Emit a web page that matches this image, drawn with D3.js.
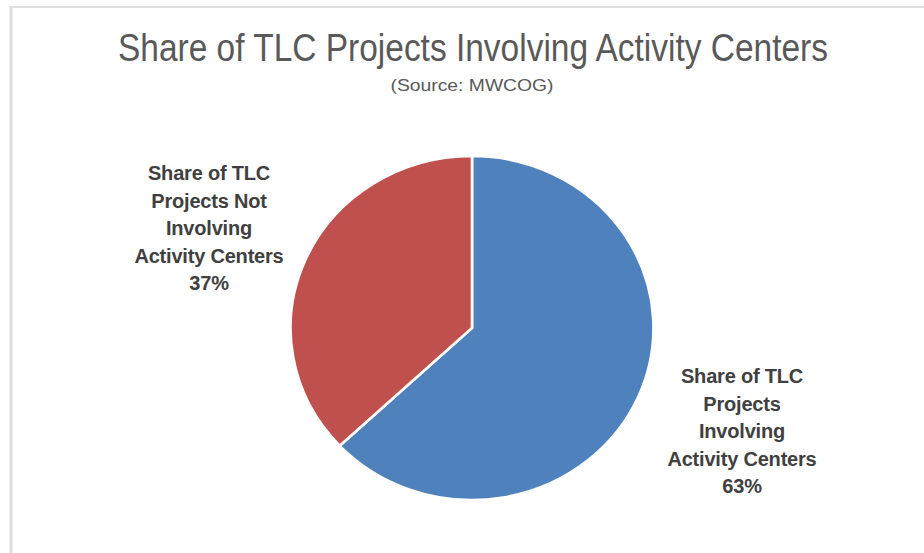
<!DOCTYPE html>
<html>
<head>
<meta charset="utf-8">
<script src="https://cdn.jsdelivr.net/npm/d3@7"></script>
<style>
  body { margin: 0; background: #fff; }
  svg { display: block; }
</style>
</head>
<body>
<div id="chart"></div>
<script>
var categories = ["Share of TLC Projects Involving Activity Centers",
                  "Share of TLC Projects Not Involving Activity Centers"]
var values = [63, 37]
var labelLines = [
  ["Share of TLC", "Projects", "Involving", "Activity Centers", "63%"],
  ["Share of TLC", "Projects Not", "Involving", "Activity Centers", "37%"]
]
var colors = ["#4f81bd", "#c0504d"]

var width = 924, height = 553

var svg = d3.select("#chart").append("svg")
    .attr("width", width)
    .attr("height", height)

// chart area border (top + left visible)
svg.append("line")
    .attr("x1", 10).attr("x2", width)
    .attr("y1", 7).attr("y2", 7)
    .attr("stroke", "#dedede").attr("stroke-width", 2)
svg.append("line")
    .attr("x1", 11).attr("x2", 11)
    .attr("y1", 6).attr("y2", height)
    .attr("stroke", "#dedede").attr("stroke-width", 3)

// title
svg.append("text")
    .attr("x", 473).attr("y", 61)
    .attr("text-anchor", "middle")
    .attr("font-family", "Liberation Sans, Arial, sans-serif")
    .attr("font-size", 38)
    .attr("fill", "#595959")
    .attr("textLength", 710)
    .attr("lengthAdjust", "spacingAndGlyphs")
    .text("Share of TLC Projects Involving Activity Centers")

svg.append("text")
    .attr("x", 472).attr("y", 91)
    .attr("text-anchor", "middle")
    .attr("font-family", "Liberation Sans, Arial, sans-serif")
    .attr("font-size", 17)
    .attr("fill", "#595959")
    .attr("textLength", 163)
    .attr("lengthAdjust", "spacingAndGlyphs")
    .text("(Source: MWCOG)")

// pie
var cx = 472, cy = 328, r = 172
var pie = d3.pie().sort(null).value(function(d) { return d })
var arc = d3.arc().innerRadius(0).outerRadius(r)

var g = svg.append("g")
    .attr("transform", "translate(" + cx + "," + cy + ") scale(1.055,1)")

g.selectAll("path")
    .data(pie(values))
    .enter().append("path")
    .attr("d", arc)
    .attr("fill", function(d, i) { return colors[i] })
    .attr("stroke", "#fff")
    .attr("stroke-width", 2.5)

// labels
var labelPos = [[742, 383], [209, 180]]
var lineH = 27.5

labelLines.forEach(function(lines, i) {
  var t = svg.append("text")
      .attr("text-anchor", "middle")
      .attr("font-family", "Liberation Sans, Arial, sans-serif")
      .attr("font-weight", "bold")
      .attr("font-size", 20)
      .attr("letter-spacing", "-0.2px")
      .attr("fill", "#404040")
  lines.forEach(function(s, j) {
    t.append("tspan")
        .attr("x", labelPos[i][0])
        .attr("y", labelPos[i][1] + j * lineH)
        .text(s)
  })
})
</script>
</body>
</html>
